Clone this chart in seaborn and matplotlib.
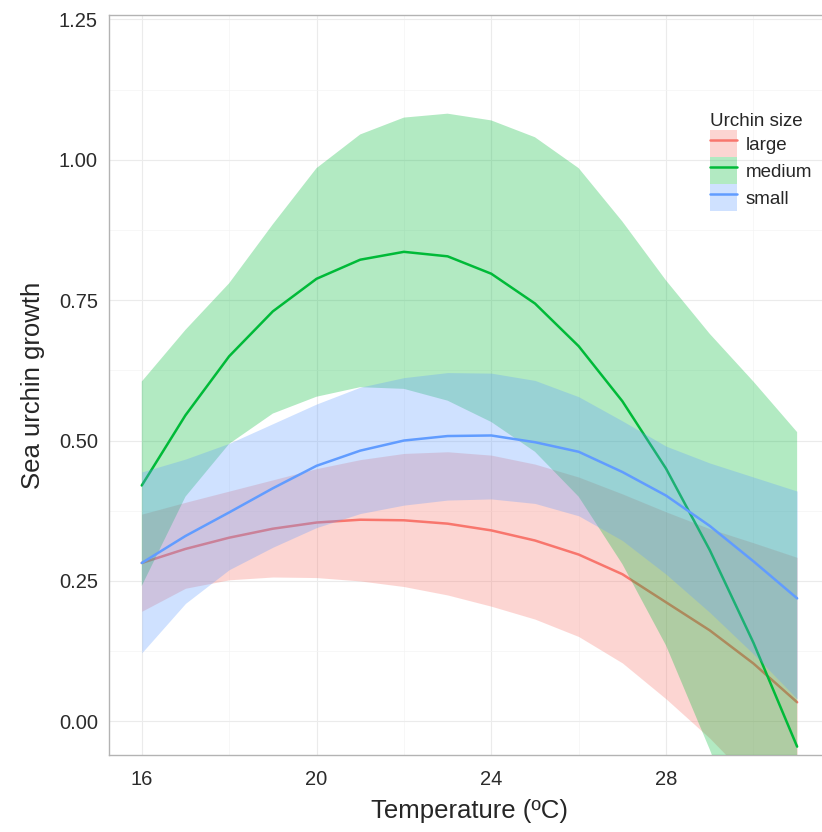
import numpy as np
import pandas as pd
import seaborn as sns
import matplotlib.pyplot as plt
from matplotlib.patches import Patch
from matplotlib.lines import Line2D
from matplotlib.ticker import MultipleLocator

# temperature grid (ºC) and fitted values
temperature = list(range(16, 32))

large_fit = [0.282, 0.307, 0.327, 0.343, 0.354, 0.359, 0.358, 0.352,
             0.340, 0.322, 0.297, 0.262, 0.212, 0.162, 0.103, 0.034]
large_lo = [0.196, 0.237, 0.252, 0.257, 0.256, 0.250, 0.240, 0.225,
            0.205, 0.182, 0.151, 0.104, 0.040, -0.030, -0.110, -0.200]
large_hi = [0.369, 0.390, 0.410, 0.430, 0.450, 0.466, 0.477, 0.480,
            0.474, 0.458, 0.435, 0.405, 0.373, 0.343, 0.318, 0.292]

medium_fit = [0.420, 0.545, 0.650, 0.730, 0.788, 0.822, 0.836, 0.828,
              0.797, 0.744, 0.668, 0.570, 0.450, 0.305, 0.140, -0.045]
medium_lo = [0.241, 0.400, 0.494, 0.548, 0.578, 0.595, 0.592, 0.571,
             0.533, 0.480, 0.400, 0.280, 0.135, -0.050, -0.250, -0.450]
medium_hi = [0.605, 0.697, 0.780, 0.885, 0.985, 1.045, 1.075, 1.082,
             1.070, 1.040, 0.985, 0.890, 0.785, 0.690, 0.605, 0.515]

small_fit = [0.282, 0.330, 0.372, 0.415, 0.455, 0.482, 0.500, 0.508,
             0.509, 0.497, 0.480, 0.444, 0.402, 0.348, 0.285, 0.219]
small_lo = [0.122, 0.210, 0.270, 0.310, 0.345, 0.370, 0.385, 0.394,
            0.396, 0.388, 0.366, 0.322, 0.262, 0.194, 0.120, 0.040]
small_hi = [0.444, 0.467, 0.495, 0.530, 0.565, 0.595, 0.612, 0.621,
            0.620, 0.607, 0.578, 0.535, 0.490, 0.460, 0.435, 0.410]

sizes = ["large", "medium", "small"]
colors = ["#F8766D", "#00BA38", "#619CFF"]

fits = {"large": (large_fit, large_lo, large_hi),
        "medium": (medium_fit, medium_lo, medium_hi),
        "small": (small_fit, small_lo, small_hi)}

rows = []
for s in sizes:
    f, lo, hi = fits[s]
    rows.append(pd.DataFrame({"temp": temperature, "growth": f,
                              "lower": lo, "upper": hi, "size": s}))
df = pd.concat(rows, ignore_index=True)

sns.set_style("white")
plt.rcParams["font.family"] = ["Liberation Sans", "DejaVu Sans"]

fig = plt.figure(figsize=(8.22, 8.32), dpi=100)
ax = fig.add_axes([0.1326, 0.0925, 0.877, 0.889])

# ribbon then line for each group, like geom_smooth
for i, (s, col) in enumerate(zip(sizes, colors)):
    sub = df[df["size"] == s]
    ax.fill_between(sub["temp"], sub["lower"], sub["upper"], color=col,
                    alpha=0.3, lw=0, zorder=2 * i + 1)
    sns.lineplot(data=sub, x="temp", y="growth", color=col, lw=1.8,
                 ax=ax, zorder=2 * i + 2)

ax.set_xlim(15.25, 31.75)
ax.set_ylim(-0.06, 1.257)
ax.set_xticks([16, 20, 24, 28])
ax.set_yticks([0, 0.25, 0.5, 0.75, 1.0, 1.25])
ax.set_yticklabels(["0.00", "0.25", "0.50", "0.75", "1.00", "1.25"])
ax.xaxis.set_minor_locator(MultipleLocator(2))
ax.yaxis.set_minor_locator(MultipleLocator(0.125))

ax.set_axisbelow(True)
ax.grid(which="major", color="#EBEBEB", lw=0.8)
ax.grid(which="minor", color="#F4F4F4", lw=0.5)
ax.tick_params(which="major", length=4, width=1, color="#4D4D4D",
               labelsize=14.5, labelcolor="#2B2B2B")
ax.tick_params(axis="x", pad=7)
ax.tick_params(axis="y", pad=4)
ax.tick_params(which="minor", length=0)
for sp in ax.spines.values():
    sp.set_color("#B3B3B3")
    sp.set_linewidth(1.0)

ax.set_xlabel("Temperature (ºC)", fontsize=18.5, labelpad=7)
ax.set_ylabel("Sea urchin growth", fontsize=18.5, labelpad=10)

handles = [(Patch(facecolor=c, alpha=0.3, lw=0), Line2D([], [], color=c, lw=1.8))
           for c in colors]
ax.legend(handles, sizes, title="Urchin size", loc="upper left",
          bbox_to_anchor=(710 / 822, 1 - 113 / 832), bbox_transform=fig.transFigure,
          frameon=False, alignment="left", handlelength=1.45, handleheight=1.84,
          handletextpad=0.45, labelspacing=0.0, borderpad=0, borderaxespad=0,
          fontsize=13.5, title_fontsize=13.5)

fig.savefig("out.png", dpi=100)
